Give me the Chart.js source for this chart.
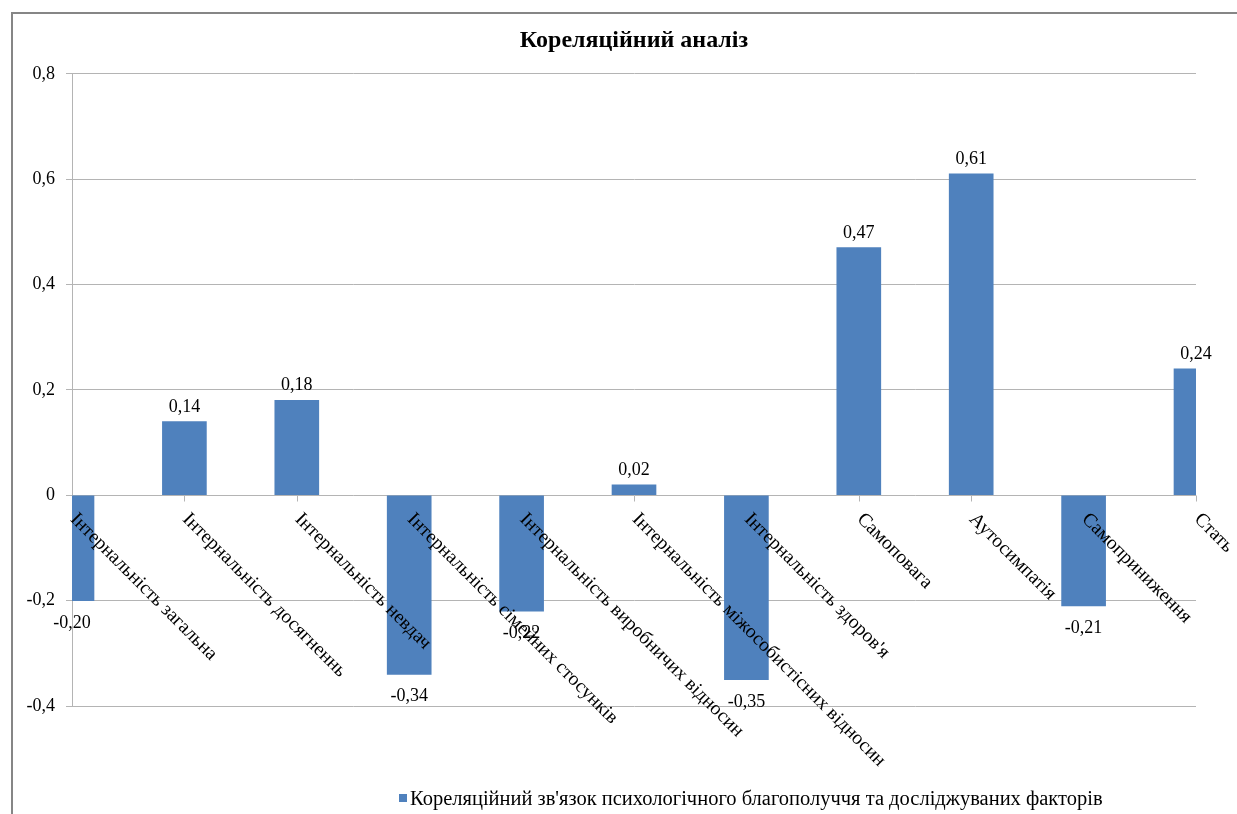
<!DOCTYPE html>
<html lang="uk">
<head>
<meta charset="utf-8">
<title>Кореляційний аналіз</title>
<script src="https://cdn.jsdelivr.net/npm/chart.js@4/dist/chart.umd.min.js"></script>
<style>
  html, body { margin: 0; padding: 0; background: #ffffff; overflow: hidden; }
  #wrap { position: relative; width: 1237px; height: 814px; }
  #frame {
    position: absolute; left: 11px; top: 12px; width: 1400px; height: 1000px;
    border-top: 2px solid #868686; border-left: 2px solid #868686;
  }
  #c { position: absolute; left: 0; top: 0; }
</style>
</head>
<body>
<div id="wrap">
  <div id="frame"></div>
  <canvas id="c" width="1237" height="814"></canvas>
</div>
<script>
// Factors correlated with psychological well-being
const categories = [
  'Інтернальність загальна',
  'Інтернальність досягненнь',
  'Інтернальність невдач',
  'Інтернальність сімейних стосунків',
  'Інтернальність виробничих відносин',
  'Інтернальність міжособистісних відносин',
  'Інтернальність здоров\'я',
  'Самоповага',
  'Аутосимпатія',
  'Самоприниження',
  'Стать'
];
const correlations = [-0.20, 0.14, 0.18, -0.34, -0.22, 0.02, -0.35, 0.47, 0.61, -0.21, 0.24];
const yTickValues = [-0.4, -0.2, 0, 0.2, 0.4, 0.6, 0.8];
const yTickLabels = ['-0,4', '-0,2', '0', '0,2', '0,4', '0,6', '0,8'];
const seriesName = 'Кореляційний зв\'язок психологічного благополуччя та досліджуваних факторів';
const chartTitle = 'Кореляційний аналіз';

const SERIF = "'Liberation Serif', 'Times New Roman', serif";
const BAR_COLOR = '#4f81bd';
const GRID_COLOR = '#b4b4b4';

function fmt(v) {
  return v.toFixed(2).replace('.', ',');
}

// Category axis drawn at the zero line: small tick marks under the bars
const zeroAxisTicks = {
  id: 'zeroAxisTicks',
  beforeDatasetsDraw(chart) {
    const { ctx, scales: { x, y } } = chart;
    const y0 = Math.round(y.getPixelForValue(0)) + 0.5;
    ctx.save();
    ctx.strokeStyle = GRID_COLOR;
    ctx.lineWidth = 1;
    ctx.beginPath();
    categories.forEach((_, i) => {
      const px = Math.round(x.getPixelForValue(i)) + 0.5;
      ctx.moveTo(px, y0);
      ctx.lineTo(px, y0 + 6);
    });
    ctx.stroke();
    ctx.restore();
  }
};

// Value labels above positive bars and below negative bars
const valueLabels = {
  id: 'valueLabels',
  afterDatasetsDraw(chart) {
    const { ctx } = chart;
    const meta = chart.getDatasetMeta(0);
    ctx.save();
    ctx.font = '18px ' + SERIF;
    ctx.fillStyle = '#000000';
    ctx.textAlign = 'center';
    ctx.textBaseline = 'alphabetic';
    meta.data.forEach((bar, i) => {
      const v = correlations[i];
      const ty = v >= 0 ? bar.y - 10 : bar.y + 27;
      ctx.fillText(fmt(v), bar.x, ty);
    });
    ctx.restore();
  }
};

// Category names rotated 45° clockwise, starting at the zero line
const categoryLabels = {
  id: 'categoryLabels',
  afterDraw(chart) {
    const { ctx, scales: { x, y } } = chart;
    const y0 = y.getPixelForValue(0);
    ctx.save();
    ctx.font = '19.5px ' + SERIF;
    ctx.fillStyle = '#000000';
    ctx.textAlign = 'left';
    ctx.textBaseline = 'middle';
    categories.forEach((name, i) => {
      const px = x.getPixelForValue(i);
      ctx.save();
      ctx.translate(px + 1, y0 + 21);
      ctx.rotate(Math.PI / 4);
      ctx.fillText(name, 0, 0);
      ctx.restore();
    });
    ctx.restore();
  }
};

// Legend entry below the plot
const bottomLegend = {
  id: 'bottomLegend',
  afterDraw(chart) {
    const { ctx } = chart;
    ctx.save();
    ctx.fillStyle = BAR_COLOR;
    ctx.fillRect(399, 794, 8, 8);
    ctx.font = '20.5px ' + SERIF;
    ctx.fillStyle = '#000000';
    ctx.textAlign = 'left';
    ctx.textBaseline = 'alphabetic';
    ctx.fillText(seriesName, 410, 805);
    ctx.restore();
  }
};

new Chart(document.getElementById('c'), {
  type: 'bar',
  data: {
    labels: categories,
    datasets: [{
      label: seriesName,
      data: correlations,
      backgroundColor: BAR_COLOR,
      borderWidth: 0,
      barThickness: 44
    }]
  },
  options: {
    responsive: false,
    animation: false,
    devicePixelRatio: 1,
    layout: { padding: { top: 0, left: 0, right: 41, bottom: 108 } },
    plugins: {
      legend: { display: false },
      tooltip: { enabled: false },
      title: {
        display: true,
        text: chartTitle,
        fullSize: false,
        color: '#000000',
        font: { family: SERIF, size: 24, weight: 'bold', lineHeight: 1.2 },
        padding: { top: 26, bottom: 19 }
      }
    },
    scales: {
      x: {
        type: 'category',
        display: false,
        offset: false
      },
      y: {
        min: -0.4,
        max: 0.8,
        afterBuildTicks(scale) {
          scale.ticks = yTickValues.map(v => ({ value: v }));
        },
        afterFit(scale) { scale.width = 72; },
        ticks: {
          color: '#000000',
          font: { family: SERIF, size: 18 },
          padding: 11,
          callback(value) {
            const idx = yTickValues.findIndex(t => Math.abs(t - value) < 1e-9);
            return idx >= 0 ? yTickLabels[idx] : '';
          }
        },
        grid: { color: GRID_COLOR, lineWidth: 1, tickLength: 6, drawTicks: true },
        border: { display: true, color: GRID_COLOR, width: 1 }
      }
    }
  },
  plugins: [zeroAxisTicks, valueLabels, categoryLabels, bottomLegend]
});
</script>
</body>
</html>
